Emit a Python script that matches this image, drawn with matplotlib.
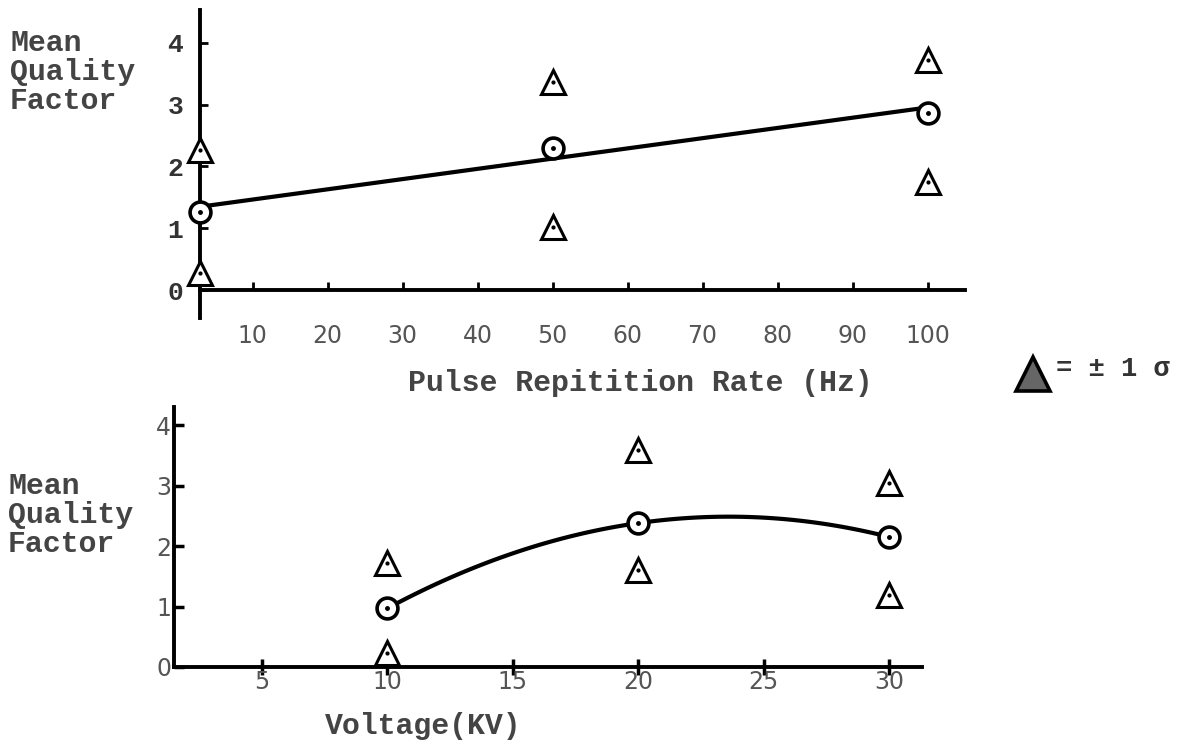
import numpy as np
import matplotlib.pyplot as plt
from matplotlib.lines import Line2D

# upper panel: pulse repetition rate (Hz)
prr = [3, 50, 100]
prr_mean = [1.26, 2.30, 2.87]
prr_upper = [2.27, 3.37, 3.72]
prr_lower = [0.28, 1.02, 1.75]
prr_ticks = [10, 20, 30, 40, 50, 60, 70, 80, 90, 100]

# lower panel: voltage (kV)
kv = [10, 20, 30]
kv_mean = [0.97, 2.38, 2.15]
kv_upper = [1.72, 3.59, 3.04]
kv_lower = [0.23, 1.60, 1.19]
kv_ticks = [5, 10, 15, 20, 25, 30]

y_ticks = [0, 1, 2, 3, 4]

W, H = 1183, 744
MONO = 'Liberation Mono'
GREY = '#555555'


def box(x0, y0, x1, y1):
    # pixel box (top-left origin) -> figure fractions
    return [x0 / W, 1 - y1 / H, (x1 - x0) / W, (y1 - y0) / H]


def marks(ax, x, mean, upper, lower):
    ax.plot(x, mean, 'o', ms=15, mfc='white', mec='black', mew=2.6,
            zorder=4, clip_on=False)
    ax.plot(x, mean, '.', ms=5, color='black', zorder=5, clip_on=False)
    for ys in (upper, lower):
        ax.plot(x, ys, '^', ms=17, mfc='white', mec='black', mew=2.2,
                zorder=4, clip_on=False)
        ax.plot(x, ys, '.', ms=4, color='black', zorder=5, clip_on=False)


def style(ax):
    ax.spines['top'].set_visible(False)
    ax.spines['right'].set_visible(False)
    for s in ('left', 'bottom'):
        ax.spines[s].set_linewidth(2.8)
    ax.patch.set_alpha(0)


fig = plt.figure(figsize=(W / 100, H / 100), dpi=100)

# ---- top chart
ax1 = fig.add_axes(box(200, 10, 965, 318))
style(ax1)
ax1.spines['bottom'].set_position(('data', 0))
ax1.set_xlim(3, 105)
ax1.set_ylim(-0.45, 4.53)

k, b = np.polyfit(prr, prr_mean, 1)
xs = np.linspace(prr[0], prr[-1], 50)
ax1.plot(xs, k * xs + b, color='black', lw=3, zorder=3)
marks(ax1, prr, prr_mean, prr_upper, prr_lower)

ax1.set_xticks(prr_ticks)
ax1.set_yticks(y_ticks)
ax1.tick_params(axis='x', direction='in', length=6, width=2, pad=24,
                labelsize=17, labelcolor=GREY)
ax1.tick_params(axis='y', direction='in', length=6, width=2, pad=12,
                labelsize=19, labelcolor='#333333')
for t in ax1.get_yticklabels():
    t.set_family(MONO)
    t.set_weight('bold')

# ---- bottom chart
ax2 = fig.add_axes(box(174, 407, 922, 667))
style(ax2)
ax2.set_xlim(1.5, 31.3)
ax2.set_ylim(0, 4.3)

c = np.polyfit(kv, kv_mean, 2)
xs2 = np.linspace(kv[0], kv[-1], 100)
ax2.plot(xs2, np.polyval(c, xs2), color='black', lw=3, zorder=3)
marks(ax2, kv, kv_mean, kv_upper, kv_lower)

ax2.set_xticks(kv_ticks)
ax2.set_yticks(y_ticks)
ax2.tick_params(axis='x', direction='inout', length=12, width=2.5, pad=-4,
                labelsize=17, labelcolor=GREY)
ax2.tick_params(axis='y', direction='in', length=7, width=2.5, pad=2,
                labelsize=17, labelcolor=GREY)

# ---- axis titles (typewriter style)
lab = dict(family=MONO, weight='bold', fontsize=21.5, color='#444444',
           linespacing=1.05)
fig.text(10 / W, 1 - 29 / H, 'Mean\nQuality\nFactor', ha='left', va='top', **lab)
fig.text(8 / W, 1 - 472 / H, 'Mean\nQuality\nFactor', ha='left', va='top', **lab)
fig.text(640 / W, 1 - 383 / H, 'Pulse Repitition Rate (Hz)', ha='center',
         va='center', **lab)
fig.text(423 / W, 1 - 726 / H, 'Voltage(KV)', ha='center', va='center', **lab)

# ---- key
fig.add_artist(Line2D([1033 / W], [1 - 374 / H], marker='^', ms=24,
                      mfc='0.4', mec='black', mew=2.6,
                      transform=fig.transFigure))
fig.text(1056 / W, 1 - 369 / H, '= ± 1 σ', ha='left', va='center',
         family=MONO, weight='bold', fontsize=19.5, color='#333333')

fig.savefig('out.png', dpi=100)
